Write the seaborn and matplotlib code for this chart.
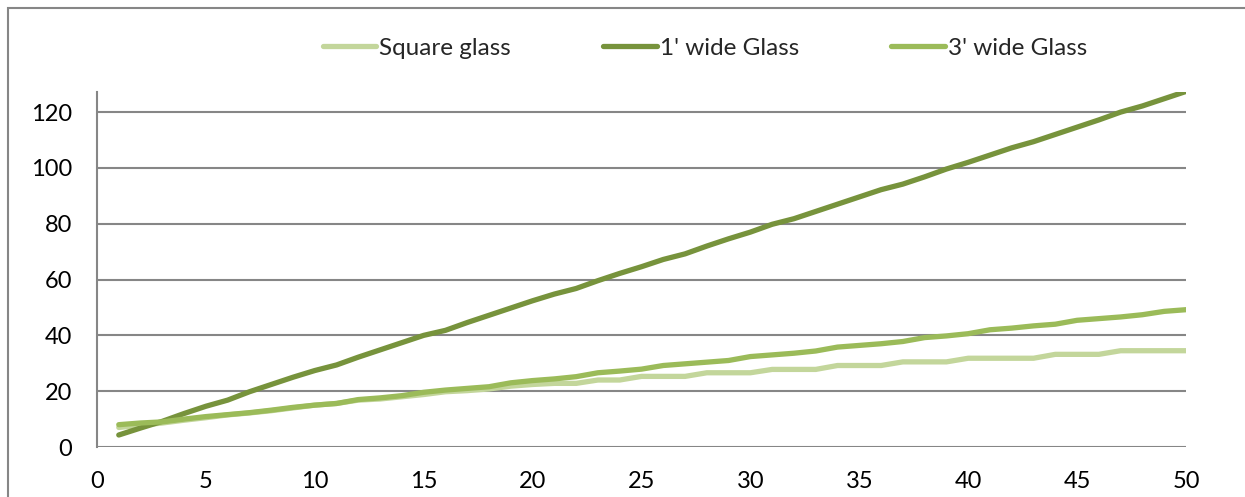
import pandas as pd
import seaborn as sns
import matplotlib.pyplot as plt
from matplotlib.patches import Rectangle

# x positions 1..50
steps = list(range(1, 51))

square_glass = [7.0, 7.8, 8.6, 9.6, 10.5, 11.5, 12.2, 13.0, 14.0, 15.0,
                15.6, 16.8, 17.2, 18.0, 18.8, 19.8, 20.2, 20.8, 21.8, 22.4,
                22.8, 22.8, 24.0, 24.0, 25.3, 25.3, 25.3, 26.6, 26.6, 26.6,
                27.8, 27.8, 27.8, 29.2, 29.2, 29.2, 30.5, 30.5, 30.5, 31.8,
                31.8, 31.8, 31.8, 33.2, 33.2, 33.2, 34.5, 34.5, 34.5, 34.5]

wide1_glass = [4.3, 6.8, 9.2, 12.0, 14.6, 16.8, 19.8, 22.4, 25.0, 27.4,
               29.4, 32.2, 34.8, 37.4, 40.0, 41.8, 44.6, 47.2, 49.8, 52.4,
               54.8, 56.8, 59.6, 62.2, 64.6, 67.2, 69.2, 72.0, 74.6, 77.0,
               79.8, 81.8, 84.4, 87.0, 89.6, 92.2, 94.2, 96.8, 99.6, 102.0,
               104.6, 107.2, 109.4, 112.0, 114.6, 117.2, 120.0, 122.2, 124.8, 127.4]

wide3_glass = [8.0, 8.6, 9.0, 10.0, 10.9, 11.6, 12.3, 13.2, 14.2, 15.0,
               15.6, 17.0, 17.6, 18.4, 19.6, 20.4, 21.0, 21.6, 23.0, 23.8,
               24.4, 25.2, 26.6, 27.2, 27.9, 29.2, 29.8, 30.4, 31.0, 32.4,
               33.0, 33.6, 34.4, 35.8, 36.4, 37.0, 37.8, 39.2, 39.8, 40.6,
               42.0, 42.6, 43.4, 44.0, 45.4, 46.0, 46.6, 47.4, 48.6, 49.2]

series_names = ["Square glass", "1' wide Glass", "3' wide Glass"]
colors = ["#C3D69B", "#77933C", "#9BBB59"]

x_ticks = [0, 5, 10, 15, 20, 25, 30, 35, 40, 45, 50]
y_ticks = [0, 20, 40, 60, 80, 100, 120]

df = pd.DataFrame({
    'x': steps * 3,
    'value': square_glass + wide1_glass + wide3_glass,
    'series': [series_names[0]] * 50 + [series_names[1]] * 50 + [series_names[2]] * 50,
})

sns.set_style('white')
plt.rcParams['font.family'] = ['Lato', 'DejaVu Sans']

fig = plt.figure(figsize=(12.45, 4.97), dpi=100)
ax = fig.add_axes([97 / 1245, 50 / 497, 1089 / 1245, 355 / 497])

grid_col = '#868686'

sns.lineplot(data=df, x='x', y='value', hue='series', palette=colors,
             hue_order=series_names, linewidth=3.8, ax=ax, legend=False,
             solid_capstyle='round')

ax.set_xlim(0, 50)
ax.set_ylim(0, 127.2)
ax.set_xticks(x_ticks)
ax.set_yticks(y_ticks)
ax.set_xlabel('')
ax.set_ylabel('')
ax.yaxis.grid(True, color=grid_col, linewidth=1.5)
ax.set_axisbelow(True)
for s in ['top', 'right', 'bottom']:
    ax.spines[s].set_visible(False)
ax.spines['left'].set_color(grid_col)
ax.spines['left'].set_linewidth(1.5)
ax.tick_params(axis='both', length=0, labelsize=17, colors='black')
ax.tick_params(axis='y', pad=18)
ax.tick_params(axis='x', pad=17)

handles = [plt.Line2D([], [], color=c, linewidth=3.8, solid_capstyle='round') for c in colors]
fig.legend(handles, series_names, loc='center', bbox_to_anchor=(705 / 1245, 0.903),
           ncol=3, frameon=False, fontsize=17.5, handlelength=2.2,
           handletextpad=0.12, columnspacing=3.8)

fig.patches.append(Rectangle((8 / 1245, -0.1), 1.2, (489 / 497) + 0.1,
                             transform=fig.transFigure, fill=False,
                             edgecolor=grid_col, linewidth=1.5))

fig.savefig('out.png', dpi=100)
